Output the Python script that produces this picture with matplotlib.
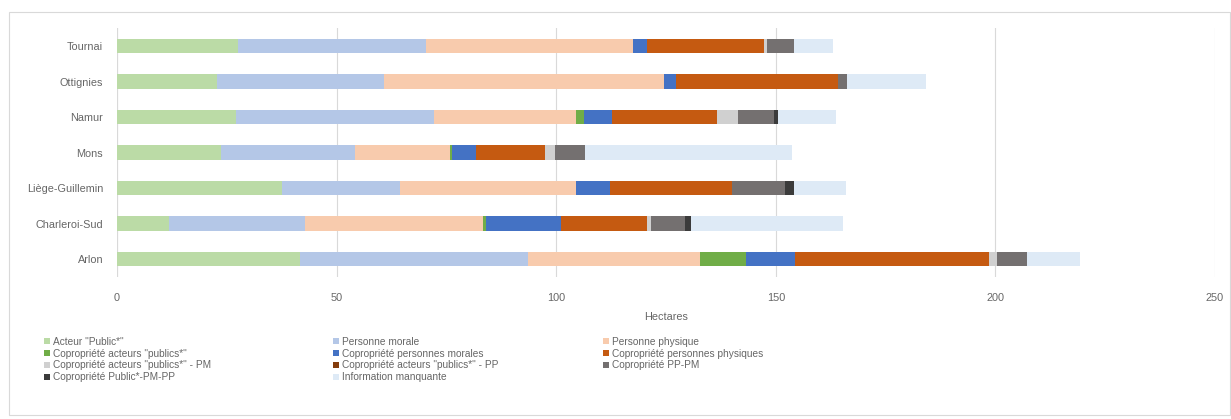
import matplotlib.pyplot as plt
from matplotlib.patches import Rectangle, Patch

plt.rcParams['font.family'] = ['Liberation Sans', 'DejaVu Sans']

sites = ['Arlon', 'Charleroi-Sud', 'Liège-Guillemin', 'Mons', 'Namur', 'Ottignies', 'Tournai']

series_names = [
    'Acteur "Public*"',
    'Personne morale',
    'Personne physique',
    'Copropriété acteurs "publics*"',
    'Copropriété personnes morales',
    'Copropriété personnes physiques',
    'Copropriété acteurs "publics*" - PM',
    'Copropriété acteurs "publics*" - PP',
    'Copropriété PP-PM',
    'Copropriété Public*-PM-PP',
    'Information manquante',
]

# hectares per site, same order as sites
acteur_public = [41.6, 11.9, 37.5, 23.6, 27.2, 22.8, 27.6]
personne_morale = [51.9, 30.9, 26.9, 30.7, 45.0, 38.0, 42.7]
personne_physique = [39.2, 40.6, 40.2, 21.6, 32.3, 63.8, 47.3]
copro_publics = [10.6, 0.6, 0.0, 0.4, 1.9, 0.0, 0.0]
copro_pm = [11.1, 17.1, 7.6, 5.4, 6.2, 2.7, 3.0]
copro_pp = [44.2, 19.5, 27.9, 15.7, 23.9, 36.9, 26.6]
copro_publics_pm = [1.7, 0.9, 0.0, 2.3, 4.9, 0.0, 0.8]
copro_publics_pp = [0.0, 0.0, 0.0, 0.0, 0.0, 0.0, 0.0]
copro_pp_pm = [7.0, 7.8, 12.0, 6.8, 8.2, 1.9, 6.1]
copro_pub_pm_pp = [0.0, 1.5, 2.0, 0.0, 0.8, 0.0, 0.0]
info_manquante = [12.0, 34.4, 11.9, 47.1, 13.4, 18.2, 9.0]

all_series = [acteur_public, personne_morale, personne_physique, copro_publics,
              copro_pm, copro_pp, copro_publics_pm, copro_publics_pp,
              copro_pp_pm, copro_pub_pm_pp, info_manquante]

colors = ['#BBDBA6', '#B4C7E7', '#F8CBAD', '#70AD47', '#4472C4', '#C55A11',
          '#D0D0D0', '#843C0C', '#747070', '#3B3B3B', '#DEEAF6']

text_col = '#666666'

fig = plt.figure(figsize=(12.31, 4.19), dpi=100)
ax = fig.add_axes([117 / 1231, 1 - 276.75 / 419, 1098 / 1231, 248.5 / 419])

ypos = range(len(sites))
left = [0.0] * len(sites)
for vals, col, name in zip(all_series, colors, series_names):
    ax.barh(ypos, vals, left=left, height=0.4, color=col, label=name, zorder=3)
    left = [l + v for l, v in zip(left, vals)]

ax.set_xlim(0, 250)
ax.set_ylim(-0.5, 6.5)
ax.set_xticks([0, 50, 100, 150, 200, 250])
ax.set_yticks(list(ypos))
ax.set_yticklabels(sites)
ax.grid(axis='x', color='#D9D9D9', linewidth=0.8, zorder=0)
ax.tick_params(axis='x', length=0, pad=12, labelsize=7.8, labelcolor=text_col)
ax.tick_params(axis='y', length=0, pad=10, labelsize=7.8, labelcolor=text_col)
for s in ax.spines.values():
    s.set_visible(False)
ax.axvline(0, color='#D9D9D9', linewidth=0.8, zorder=1)
ax.set_xlabel('Hectares', fontsize=7.8, color=text_col, labelpad=6)

# legend in three columns, filled row by row
handles = [Patch(facecolor=c, edgecolor='none') for c in colors]
col_x = [44, 333, 603]
for k in range(3):
    idx = list(range(k, len(series_names), 3))
    fig.legend([handles[i] for i in idx], [series_names[i] for i in idx],
               loc='upper left', bbox_to_anchor=(col_x[k] / 1231, 1 - 337 / 419),
               frameon=False, fontsize=7.3, labelcolor=text_col,
               handlelength=0.55, handleheight=0.55, handletextpad=0.3,
               labelspacing=0.17, borderpad=0, borderaxespad=0)

# chart frame
fig.patches.append(Rectangle((9 / 1231, 1 - 415 / 419), 1221 / 1231, 403 / 419,
                             transform=fig.transFigure, fill=False,
                             edgecolor='#D9D9D9', linewidth=0.8))

fig.savefig('out.png', dpi=100)
